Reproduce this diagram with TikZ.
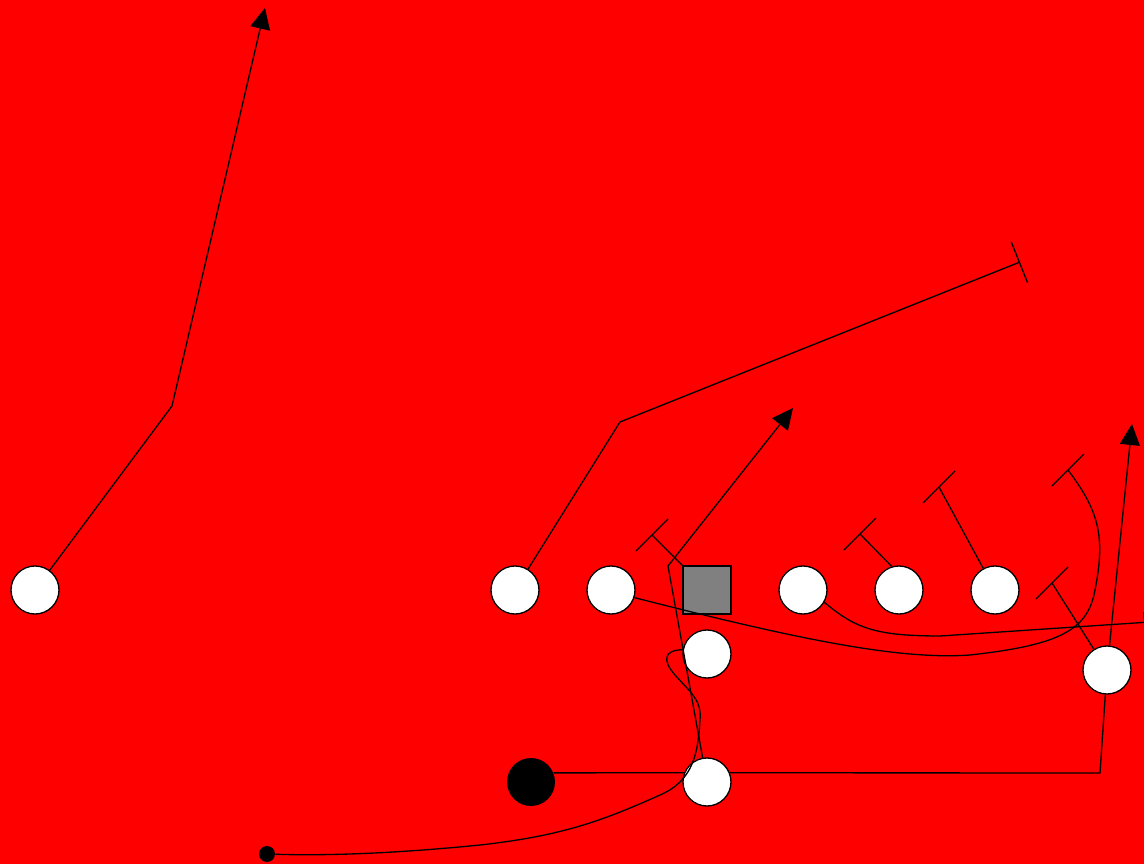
\documentclass[tikz,border=0pt]{standalone}
\usepackage{tikz}
\usetikzlibrary{arrows.meta}
\usepackage[dvipsnames,svgnames,x11names]{xcolor}

\begin{document}
\begin{tikzpicture}[
    x=0.02cm, y=-0.02cm,
    player/.style={circle, draw, fill=white, minimum size=0.96cm, inner sep=0pt, line width=0.75pt},
    route/.style={line width=0.75pt},
    run/.style={route, -{Triangle[length=0.42cm, width=0.4cm]}},
    block/.style={route, -{Bar[width=0.88cm]}},
    blockbar/.pic={\draw[route] (-16,16) -- (16,-16);}
]

% Camp

\useasboundingbox (0,0) rectangle (1144,864);
\clip (0,0) rectangle (1144,864);
\fill[red] (0,0) rectangle (1144,864);


% Jugadors

\node[player] (wrl) at (35,590) {};
\node[player] (lte) at (515,590) {};
\node[player] (ltk) at (611,590) {};
\node[
    draw,
    fill=gray,
    minimum size=0.96cm,
    inner sep=0pt,
    line width=0.75pt
] (ctr) at (707,590) {};
\node[player] (rgd) at (803,590) {};
\node[player] (rtk) at (899,590) {};
\node[player] (rte) at (995,590) {};
\node[player] (qb) at (707,654) {};
\node[player] (slot) at (1107,670) {};
\node[player] (rb) at (707,782) {};
\node[
    circle,
    fill=black,
    minimum size=0.96cm,
    inner sep=0pt
] (ball) at (531,782) {};
\node[
    circle,
    fill=black,
    minimum size=0.32cm,
    inner sep=0pt
] (dot) at (267,854) {};


% Rutes

\coordinate (wrlk) at (172,406);
\coordinate (wrlt) at (265,8);
\draw[run] (wrl) -- (wrlk) -- (wrlt);

\coordinate (ltek) at (620,422);
\coordinate (ltet) at (1020,262);
\draw[block] (lte) -- (ltek) -- (ltet);

\coordinate (rbk) at (668,566);
\coordinate (rbt) at (793,408);
\draw[run] (rb) -- (rbk) -- (rbt);

\coordinate (slott) at (1132,424);
\draw[run] (slot) -- (slott);

\coordinate (rgdt) at (1165,621);
\draw[run] (rgd.-30) .. controls (855,628) and (875,636) .. (940,636) -- (rgdt);

\coordinate (ltkt) at (1068,470);
\draw[route] (ltk.-18)
    .. controls (800,640) and (900,660) .. (970,655)
    .. controls (1060,645) and (1088,630) .. (1095,590)
    .. controls (1106,535) and (1098,510) .. (ltkt);
\pic at (ltkt) {blockbar};


% Blocatges

\coordinate (ctrt) at (652,535);
\draw[route] (ctr.north west) -- (ctrt);
\pic at (ctrt) {blockbar};

\coordinate (rtkt) at (860,534);
\draw[route] (rtk.107) -- (rtkt);
\pic at (rtkt) {blockbar};

\coordinate (rtet) at (939,487);
\draw[route] (rte) -- (rtet);
\pic at (rtet) {blockbar};

\coordinate (slotb) at (1052,583);
\draw[route] (slot) -- (slotb);
\pic at (slotb) {blockbar};


% Moviments

\draw[route] (ball.22) -- (rb.158);

\coordinate (rbr) at (1100,773);
\draw[route] (rb.22) -- (rbr) -- (slot);

\draw[route] (qb.170)
    .. controls (664,650) and (662,660) .. (675,675)
    .. controls (690,692) and (702,700) .. (700,720)
    .. controls (698,750) and (695,780) .. (660,795)
    .. controls (600,822) and (560,836) .. (480,845)
    .. controls (400,853) and (330,856) .. (dot);

\end{tikzpicture}
\end{document}
